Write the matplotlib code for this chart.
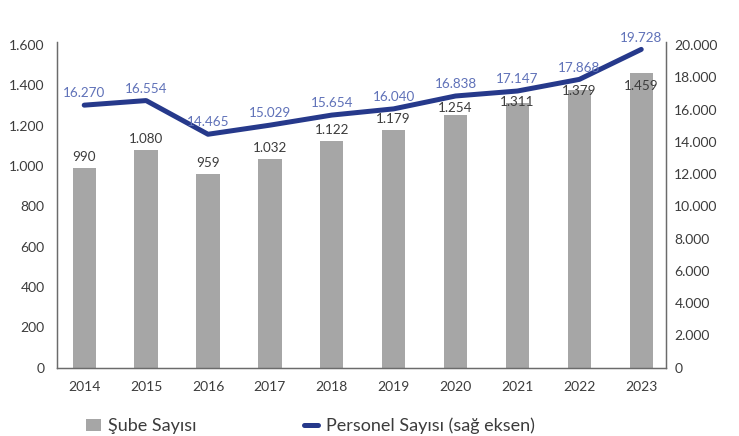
import matplotlib.pyplot as plt
import numpy as np

plt.rcParams['font.family'] = ['Lato', 'DejaVu Sans']

years = ["2014", "2015", "2016", "2017", "2018", "2019", "2020", "2021", "2022", "2023"]
sube = [990, 1080, 959, 1032, 1122, 1179, 1254, 1311, 1379, 1459]
personel = [16270, 16554, 14465, 15029, 15654, 16040, 16838, 17147, 17868, 19728]

left_ticks = [0, 200, 400, 600, 800, 1000, 1200, 1400, 1600]
right_ticks = [0, 2000, 4000, 6000, 8000, 10000, 12000, 14000, 16000, 18000, 20000]

# vertical offsets (pt) of bar labels; the last ones sit lower, under the line
bar_lbl_dy = [8, 8, 8, 8, 8, 8, 5, 1, -1, -9]


def tr_fmt(v):
    # Turkish thousands separator
    return f"{int(v):,}".replace(",", ".")


bar_color = "#a6a6a6"
line_color = "#26398b"
line_lbl_color = "#5f71b8"
text_color = "#3c3c3c"
spine_color = "#6b6b6b"

fig = plt.figure(figsize=(7.39, 4.36), dpi=100)
ax = fig.add_axes([0.0771, 0.1571, 0.8241, 0.7466])
ax2 = ax.twinx()

x = np.arange(len(years))
ax.bar(x, sube, width=0.377, color=bar_color, label="Şube Sayısı", zorder=2)
for xi, v, dy in zip(x, sube, bar_lbl_dy):
    ax.annotate(tr_fmt(v), (xi, v), xytext=(0, dy), textcoords="offset points",
                ha="center", va="center", fontsize=9.7, color=text_color)

ax2.plot(x, personel, color=line_color, lw=3.6, solid_capstyle="round",
         solid_joinstyle="round", label="Personel Sayısı (sağ eksen)", zorder=3)
for xi, v in zip(x, personel):
    ax2.annotate(tr_fmt(v), (xi, v), xytext=(0, 8.5), textcoords="offset points",
                 ha="center", va="center", fontsize=9.7, color=line_lbl_color)

ax.set_xlim(-0.44, 9.4)
ax.set_ylim(0, 1615)
ax2.set_ylim(0, 1615 * 12.5)

ax.set_xticks(x)
ax.set_xticklabels(years)
ax.set_yticks(left_ticks)
ax.set_yticklabels([tr_fmt(t) for t in left_ticks])
ax2.set_yticks(right_ticks)
ax2.set_yticklabels([tr_fmt(t) for t in right_ticks])

for a in (ax, ax2):
    a.tick_params(length=0, labelsize=10, labelcolor=text_color)
    a.spines["top"].set_visible(False)
    for s in ("left", "right", "bottom"):
        a.spines[s].set_color(spine_color)
        a.spines[s].set_linewidth(0.9)
ax.tick_params(axis="x", pad=10)
ax.tick_params(axis="y", pad=9)
ax2.tick_params(axis="y", pad=6)
ax.set_zorder(ax2.get_zorder() - 1)
ax.patch.set_visible(False)

h1, l1 = ax.get_legend_handles_labels()
h2, l2 = ax2.get_legend_handles_labels()
fig.legend(h1 + h2, l1 + l2, loc="center left", bbox_to_anchor=(0.116, 0.023),
           ncol=2, frameon=False, fontsize=13, handlelength=0.82, handleheight=0.7,
           handletextpad=0.44, columnspacing=5.9, borderpad=0, borderaxespad=0,
           labelcolor=text_color)

plt.savefig("out.png", dpi=100)
